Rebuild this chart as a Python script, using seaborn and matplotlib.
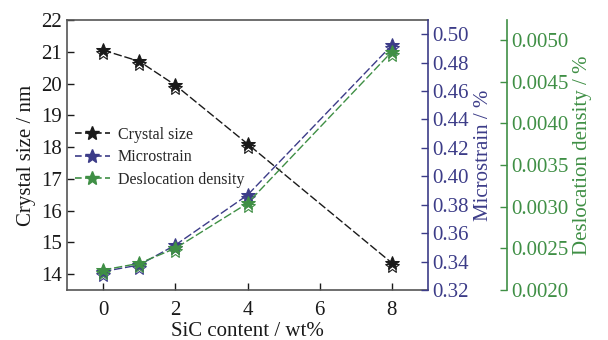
import numpy as np
import pandas as pd
import matplotlib
matplotlib.use("Agg")
import matplotlib.pyplot as plt
import matplotlib.transforms as mtransforms
from matplotlib.lines import Line2D
import seaborn as sns

sic = [0, 1, 2, 4, 8]
crystal_size = [21.05, 20.70, 19.95, 18.10, 14.35]
microstrain = [0.333, 0.3376, 0.3516, 0.3868, 0.4923]
dislocation = [0.00224, 0.00232, 0.00250, 0.00304, 0.00486]

df = pd.DataFrame({"SiC": sic, "Crystal": crystal_size,
                   "Micro": microstrain, "Disloc": dislocation})

sns.set_theme(style="ticks")
plt.rcParams['font.family'] = ['Liberation Serif', 'DejaVu Serif']

BLACK = "#1a1a1a"
BLUE = "#3c3c88"
GREEN = "#3f8f45"

fig = plt.figure(figsize=(6.08, 3.40), dpi=100)
ax = fig.add_axes([67/608, 1-290/340, (428-67)/608, (290-20)/340])
ax2 = ax.twinx()
ax3 = ax.twinx()
ax3.spines['right'].set_position(('axes', 1 + (507-428)/(428-67)))

dash = (6, 2)
ms = 10
off = mtransforms.ScaledTranslation(0, -3/100, fig.dpi_scale_trans)

def draw(a, col, color, label):
    sns.lineplot(data=df, x="SiC", y=col, ax=a, color=color, lw=1.0,
                 marker="*", markersize=ms, markerfacecolor=color,
                 markeredgecolor=color, dashes=dash, label=label, legend=False)
    ln = a.plot(df["SiC"], df[col], ls="none", marker="*", markersize=ms,
                markerfacecolor="none", markeredgecolor=color, mew=0.8)[0]
    ln.set_transform(a.transData + off)

draw(ax, "Crystal", BLACK, "Crystal size")
draw(ax2, "Micro", BLUE, "Microstrain")
draw(ax3, "Disloc", GREEN, "Deslocation density")

ax.set_xlim(-1, 9)
ax.set_ylim(13.5, 22)
ax.set_xticks([0, 2, 4, 6, 8])
ax.set_yticks(np.arange(14, 23, 1))
ax2.set_ylim(0.32, 0.51)
ax2.set_yticks(np.arange(0.32, 0.501, 0.02))
ax2.set_yticklabels([f"{v:.2f}" for v in np.arange(0.32, 0.501, 0.02)])
ax3.set_ylim(0.0020, 0.00524)
ax3.set_yticks(np.arange(0.0020, 0.00501, 0.0005))
ax3.set_yticklabels([f"{v:.4f}" for v in np.arange(0.0020, 0.00501, 0.0005)])

fs = 15
ax.set_xlabel("SiC content / wt%", fontsize=fs, color=BLACK, labelpad=1)
ax.set_ylabel("Crystal size / nm", fontsize=fs, color=BLACK, labelpad=4)
ax2.set_ylabel("Microstrain / %", fontsize=fs, color=BLUE, labelpad=4)
ax3.set_ylabel("Deslocation density / %", fontsize=fs, color=GREEN, labelpad=3)

ax.tick_params(axis='both', direction='in', labelsize=fs, colors=BLACK, length=5, width=1)
ax.tick_params(axis='x', pad=8)
ax2.tick_params(axis='y', direction='in', labelsize=fs, colors=BLUE, length=5, width=1, pad=3)
ax3.tick_params(axis='y', direction='in', labelsize=fs, colors=GREEN, length=5, width=1, pad=3)

for s in ['left', 'bottom', 'top']:
    ax.spines[s].set_color("#555555")
    ax.spines[s].set_linewidth(1.2)
ax.spines['right'].set_visible(False)
for s in ['left', 'bottom', 'top']:
    ax2.spines[s].set_visible(False)
    ax3.spines[s].set_visible(False)
ax2.spines['right'].set_color(BLUE)
ax2.spines['right'].set_linewidth(1.2)
ax3.spines['right'].set_color(GREEN)
ax3.spines['right'].set_linewidth(1.2)

handles = []
for color in [BLACK, BLUE, GREEN]:
    handles.append(Line2D([], [], color=color, lw=1.2, dashes=(4, 2), marker="*",
                          markersize=ms, markerfacecolor=color, markeredgecolor=color))
ax.legend(handles, ["Crystal size", "Microstrain", "Deslocation density"],
          loc="upper left", bbox_to_anchor=(-0.005, 0.64), frameon=False,
          fontsize=11.5, handlelength=2.2, handletextpad=0.5, labelspacing=0.4,
          borderaxespad=0.2)

fig.savefig("out.png", dpi=100)
